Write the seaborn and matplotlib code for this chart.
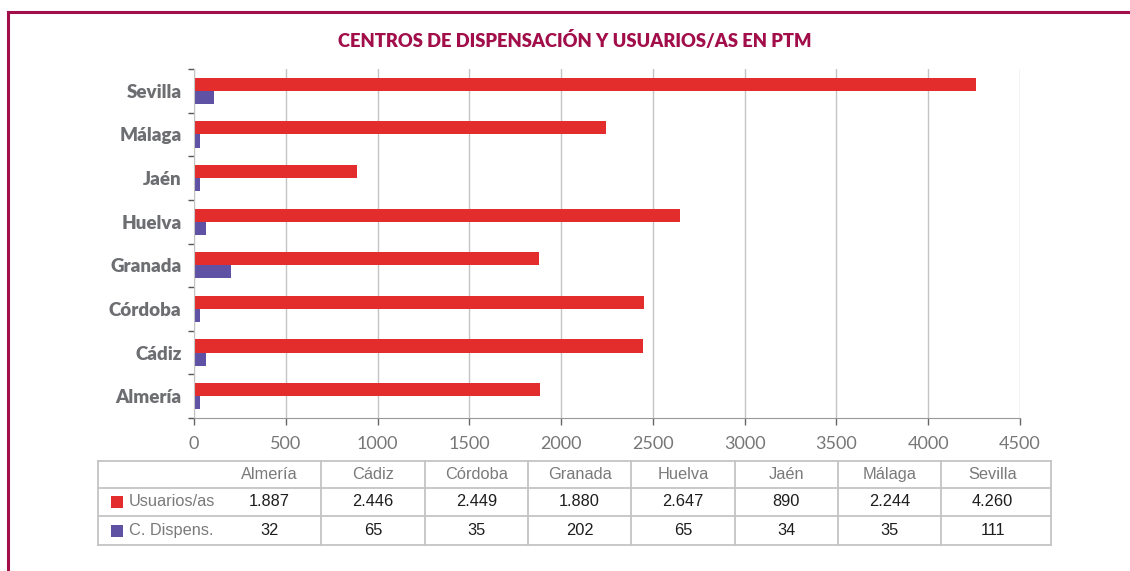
import matplotlib
matplotlib.use("Agg")
import matplotlib.pyplot as plt
import seaborn as sns
import pandas as pd
import numpy as np
from matplotlib.lines import Line2D
from matplotlib.patches import Rectangle

# ---- data ----
provincias = ["Almería", "Cádiz", "Córdoba", "Granada", "Huelva", "Jaén", "Málaga", "Sevilla"]
usuarios = [1887, 2446, 2449, 1880, 2647, 890, 2244, 4260]
dispens = [32, 65, 35, 202, 65, 34, 35, 111]
usuarios_txt = ["1.887", "2.446", "2.449", "1.880", "2.647", "890", "2.244", "4.260"]
dispens_txt = ["32", "65", "35", "202", "65", "34", "35", "111"]
series = ["Usuarios/as", "C. Dispens."]
xticks = [0, 500, 1000, 1500, 2000, 2500, 3000, 3500, 4000, 4500]
title = "CENTROS DE DISPENSACIÓN Y USUARIOS/AS EN PTM"

RED = "#E32D2D"
PURPLE = "#5F51A3"
MAROON = "#A20E4A"
GRAY = "#6D6E71"
LINE = "#C4C4C4"

df = pd.DataFrame({
    "prov": provincias * 2,
    "serie": [series[0]] * len(provincias) + [series[1]] * len(provincias),
    "valor": usuarios + dispens,
})
order = provincias[::-1]

W, H = 1130, 571
fig = plt.figure(figsize=(W / 100, H / 100), dpi=100)
ax = fig.add_axes([194 / W, 1 - 418 / H, (1020 - 194) / W, (418 - 69) / H])

sns.barplot(data=df, y="prov", x="valor", hue="serie", order=order,
            hue_order=series, palette=[RED, PURPLE], orient="h",
            width=0.6, dodge=True, saturation=1, legend=False, ax=ax,
            linewidth=0)

ax.set_xlim(0, 4500)
ax.set_ylim(len(order) - 0.5, -0.5)
ax.set_xticks(xticks)
ax.set_xticklabels([str(t) for t in xticks], fontfamily="Lato", fontsize=13, color="#777777")
ax.set_yticks(range(len(order)))
ax.set_yticklabels(order, fontfamily="Lato", fontweight="heavy", fontsize=13.5, color=GRAY)
ax.set_yticks(np.arange(len(order) + 1) - 0.5, minor=True)
ax.tick_params(axis="y", which="major", length=0, pad=9)
ax.tick_params(axis="y", which="minor", length=4, color="#555555", width=1)
ax.tick_params(axis="x", which="major", length=5, color="#666666", width=1, pad=8)
ax.set_xlabel("")
ax.set_ylabel("")
ax.grid(axis="x", color=LINE, linewidth=1)
ax.set_axisbelow(True)
for s in ["top", "right"]:
    ax.spines[s].set_visible(False)
ax.spines["left"].set_color(LINE)
ax.spines["bottom"].set_color("#999999")

# title
fig.text(575 / W, 1 - 40 / H, title, ha="center", va="center", fontfamily="Lato",
         fontweight="heavy", fontsize=13.2, color=MAROON)

# frame (top and left lines)
fig.add_artist(Line2D([8 / W, 1], [1 - 12 / H, 1 - 12 / H], transform=fig.transFigure,
                      color=MAROON, linewidth=2.2))
fig.add_artist(Line2D([8 / W, 8 / W], [1 - 12 / H, 0], transform=fig.transFigure,
                      color=MAROON, linewidth=2.2))

# table
tl, tr = 98, 1051
rows_y = [461, 488, 516, 545]
col0 = 218
colw = 103.3

def fx(x):
    return x / W

def fy(y):
    return 1 - y / H

for y in rows_y:
    fig.add_artist(Line2D([fx(tl), fx(tr)], [fy(y), fy(y)], transform=fig.transFigure,
                          color=LINE, linewidth=1.3))
for x in [tl, tr]:
    fig.add_artist(Line2D([fx(x), fx(x)], [fy(rows_y[0]), fy(rows_y[-1])],
                          transform=fig.transFigure, color=LINE, linewidth=1.3))
for i in range(1, len(provincias)):
    x = col0 + i * colw
    fig.add_artist(Line2D([fx(x), fx(x)], [fy(rows_y[0]), fy(rows_y[-1])],
                          transform=fig.transFigure, color=LINE, linewidth=1.3))

tf = "Liberation Sans"
fs = 11.8
for i, p in enumerate(provincias):
    cx = col0 + (i + 0.5) * colw
    fig.text(fx(cx), fy((rows_y[0] + rows_y[1]) / 2), p, ha="center", va="center",
             fontfamily=tf, fontsize=fs, color="#7A7A7A")
    fig.text(fx(cx), fy((rows_y[1] + rows_y[2]) / 2), usuarios_txt[i], ha="center",
             va="center", fontfamily=tf, fontsize=fs, color="#1E1E1E")
    fig.text(fx(cx), fy((rows_y[2] + rows_y[3]) / 2), dispens_txt[i], ha="center",
             va="center", fontfamily=tf, fontsize=fs, color="#1E1E1E")

for r, (name, col) in enumerate(zip(series, [RED, PURPLE])):
    yc = (rows_y[r + 1] + rows_y[r + 2]) / 2
    fig.add_artist(Rectangle((fx(111), fy(yc + 6)), 12 / W, 12 / H,
                             transform=fig.transFigure, color=col, linewidth=0))
    fig.text(fx(129), fy(yc), name, ha="left", va="center", fontfamily=tf,
             fontsize=fs, color="#7A7A7A")

fig.savefig("out.png", dpi=100)
